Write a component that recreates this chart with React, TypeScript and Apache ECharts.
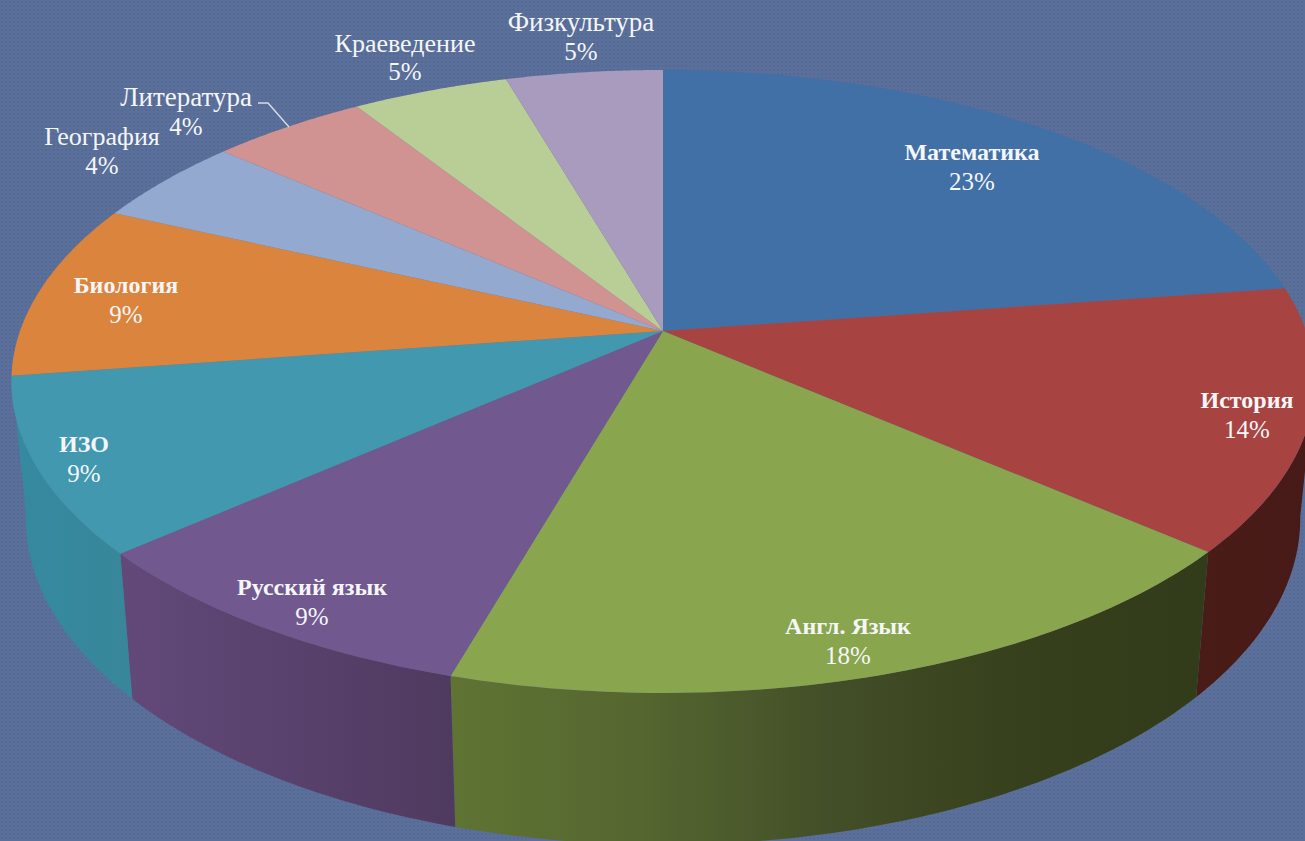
import React, { useEffect, useRef } from "react";
import * as echarts from "echarts";

const SUBJECTS = ["Математика", "История", "Англ. Язык", "Русский язык", "ИЗО", "Биология", "География", "Литература", "Краеведение", "Физкультура"];
const SHARES = [22.7, 13.6, 18.2, 9.1, 9.1, 9.1, 4.55, 4.55, 4.55, 4.55];
const PERCENT_LABELS = ["23%", "14%", "18%", "9%", "9%", "9%", "4%", "4%", "5%", "5%"];

const TOP_COLORS = ["#4170a6", "#a74442", "#89a54e", "#71588f", "#4198af", "#db843d", "#93a9cf", "#d19392", "#b9cd96", "#a99bbd"];
const WALL_COLORS = [
  ["#2c4b70", "#2c4b70"],
  ["#4a1c18", "#471a17"],
  ["#5f7433", "#556630", "#434f28", "#36401c", "#323b1a"],
  ["#62497a", "#4f3a5f"],
  ["#358aa0", "#38869a"],
];

// label layout: [centre x, name y, percent y, bold, name size]
const LABEL_LAYOUT: [number, number, number, boolean, number][] = [
  [972, 152, 181, true, 24],
  [1247, 400, 429, true, 24],
  [848, 626, 655, true, 24],
  [312, 587, 616, true, 24],
  [84, 444, 473, true, 24],
  [126, 285, 314, true, 24],
  [102, 136, 165, false, 26],
  [186, 97, 126, false, 27],
  [405, 43, 71, false, 26],
  [581, 22, 51, false, 27],
];

// perspective projection of the pie's disc
const CX = 663, CY = 331, A = 303.3, B = 643, K = 0.162;
const project = (theta: number): [number, number] => {
  const u = Math.sin(theta), v = Math.cos(theta);
  const d = 1 + K * v;
  return [CX + (B * u) / d, CY - (A * v) / d];
};
const lower = (p: number[]): [number, number] => [CX + 0.978 * (p[0] - CX), 1.0488 * p[1] + 118];

const total = SHARES.reduce((a, b) => a + b, 0);
const angleAt = (i: number) => (SHARES.slice(0, i).reduce((a, b) => a + b, 0) / total) * 2 * Math.PI;
const STEPS = 60;
const arc = (a0: number, a1: number) => {
  const pts: [number, number][] = [];
  for (let s = 0; s <= STEPS; s++) pts.push(project(a0 + ((a1 - a0) * s) / STEPS));
  return pts;
};

const WALL_FROM = (99 * Math.PI) / 180; // right-hand silhouette of the disc
const LAST_WALL = 4; // slices after this one face away from the viewer

const FONT = '"Liberation Serif", serif';

export default function App() {
  const ref = useRef<HTMLDivElement>(null);
  useEffect(() => {
    document.body.style.margin = "0";
    const chart = echarts.init(ref.current!, undefined, { renderer: "svg" });
    const data = SUBJECTS.map((name, i) => ({ name, value: SHARES[i] }));
    chart.setOption({
      animation: false,
      backgroundColor: "transparent",
      series: [
        {
          type: "custom",
          coordinateSystem: "none",
          silent: true,
          data,
          renderItem: (p: any) => {
            const i = p.dataIndex;
            const a0 = Math.max(angleAt(i), WALL_FROM);
            const a1 = angleAt(i + 1);
            if (i > LAST_WALL || a1 <= a0) return { type: "group", children: [] };
            const top = arc(a0, a1);
            const bottom = top.map(lower).reverse();
            const stops = WALL_COLORS[i];
            return {
              type: "polygon",
              shape: { points: [...top, ...bottom] },
              style: {
                fill: new echarts.graphic.LinearGradient(
                  0, 0, 1, 0,
                  stops.map((color, s) => ({ offset: s / (stops.length - 1), color }))
                ),
              },
            };
          },
        },
        {
          type: "custom",
          coordinateSystem: "none",
          silent: true,
          data,
          renderItem: (p: any) => {
            const i = p.dataIndex;
            const a0 = angleAt(i);
            const a1 = angleAt(i + 1);
            // the History wall starts at the silhouette, so its top face must cover the join
            return {
              type: "polygon",
              shape: { points: [[CX, CY], ...arc(a0, a1)] },
              style: { fill: TOP_COLORS[i] },
            };
          },
        },
        {
          type: "custom",
          coordinateSystem: "none",
          silent: true,
          data,
          renderItem: (p: any) => {
            const i = p.dataIndex;
            const [x, y1, y2, bold, size] = LABEL_LAYOUT[i];
            const common = { fill: "#f4f6f8", align: "center", verticalAlign: "middle" };
            const children: any[] = [
              { type: "text", x, y: y1, style: { ...common, text: SUBJECTS[i], font: `${bold ? "bold " : ""}${size}px ${FONT}` } },
              { type: "text", x, y: y2, style: { ...common, text: PERCENT_LABELS[i], font: `25px ${FONT}` } },
            ];
            if (SUBJECTS[i] === "Литература") {
              children.push({
                type: "polyline",
                shape: { points: [[258, 103], [268, 103], [289, 127]] },
                style: { stroke: "#d9dde5", lineWidth: 1.4, fill: "none" },
              });
            }
            return { type: "group", children };
          },
        },
      ],
    });
    return () => chart.dispose();
  }, []);
  return (
    <div
      ref={ref}
      style={{
        width: 1305,
        height: 841,
        backgroundColor: "#5a6f99",
        backgroundImage:
          "radial-gradient(rgba(0,0,30,0.05) 35%, transparent 40%)",
        backgroundSize: "4px 4px",
      }}
    />
  );
}
